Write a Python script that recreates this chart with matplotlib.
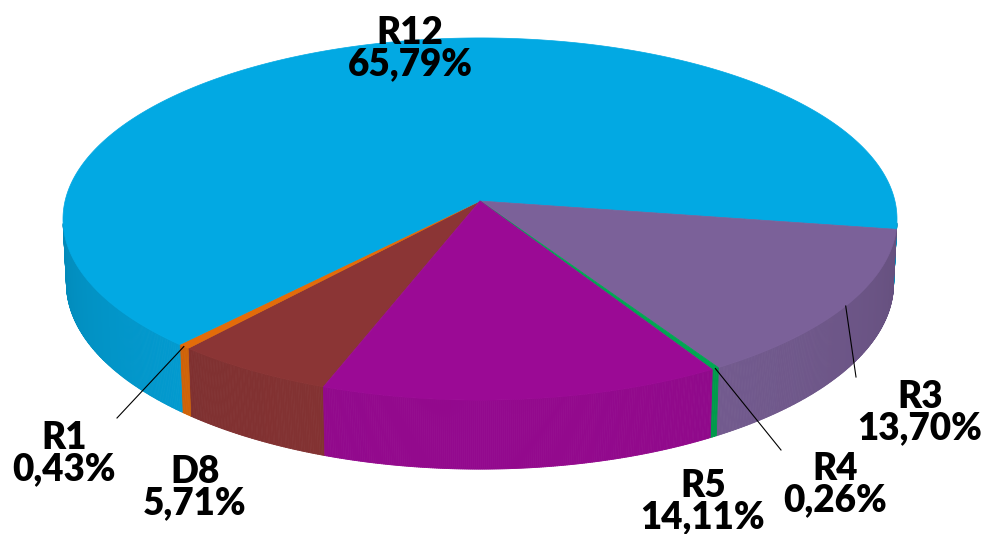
import numpy as np
import matplotlib
matplotlib.use("Agg")
import matplotlib.pyplot as plt
from matplotlib.collections import PolyCollection

# datos del grafico (orden de las porciones, en sentido horario)
LABELS = ["D8", "R1", "R12", "R3", "R4", "R5"]
VALUES = [5.71, 0.43, 65.79, 13.70, 0.26, 14.11]
COLORS = ["#8B3535", "#E36C09", "#02A9E3", "#7B6199", "#00A651", "#9B0A95"]

# posicion de las etiquetas (px) y fin de la linea guia (None = sin linea)
LABEL_POS = [(195, 488), (64, 454), (410, 49), (920, 413), (835, 485), (703, 502)]
LEADER_END = [None, (117, 418), None, (856, 377), (781, 450), None]

# geometria del pastel 3D
START = 200.0           # angulo de la primera porcion (grados, horario desde arriba)
ELEV = np.radians(25.6)
DIST = 9.064
FOCAL = 3761.0
DEPTH = 0.172
CX, CY = 480, 201

W, H = 987, 534


def proj(x, y, z):
    # x derecha, y hacia el observador, z arriba -> pixeles
    s, c = np.sin(ELEV), np.cos(ELEV)
    vy = y - DIST * c
    vz = z - DIST * s
    depth = -vy * c - vz * s
    up = -vy * s + vz * c
    return CX + x / depth * FOCAL, CY - up / depth * FOCAL


def rim(phi, z=0.0):
    r = np.radians(phi)
    return proj(np.sin(r), -np.cos(r), z)


def shade(color, f):
    rgb = np.array(matplotlib.colors.to_rgb(color))
    return tuple(np.clip(rgb * f, 0, 1))


fig = plt.figure(figsize=(W / 100, H / 100), dpi=100)
ax = fig.add_axes([0, 0, 1, 1])
ax.set_xlim(0, W)
ax.set_ylim(H, 0)
ax.axis("off")

total = sum(VALUES)
bounds = [START]
for v in VALUES:
    bounds.append(bounds[-1] + v / total * 360.0)

vis = 1.0 / (DIST * np.cos(ELEV))

# paredes laterales
side_polys, side_cols = [], []
for i, col in enumerate(COLORS):
    a, b = bounds[i], bounds[i + 1]
    n = max(2, int((b - a) * 4))
    phis = np.linspace(a, b, n + 1)
    for p0, p1 in zip(phis[:-1], phis[1:]):
        pm = np.radians((p0 + p1) / 2)
        if -np.cos(pm) <= vis:
            continue
        x0, y0 = rim(p0)
        x1, y1 = rim(p1)
        x2, y2 = rim(p1, -DEPTH)
        x3, y3 = rim(p0, -DEPTH)
        side_polys.append([(x0, y0), (x1, y1), (x2, y2), (x3, y3)])
        f = np.clip(0.80 + 0.15 * (-np.cos(pm)), 0.78, 0.95)
        side_cols.append(shade(col, f))
ax.add_collection(PolyCollection(side_polys, facecolors=side_cols,
                                 edgecolors=side_cols, linewidths=0.6))

# caras superiores
top_polys = []
for i in range(len(VALUES)):
    a, b = bounds[i], bounds[i + 1]
    n = max(2, int((b - a) * 2))
    phis = np.linspace(a, b, n + 1)
    pts = [proj(0, 0, 0)] + [rim(p) for p in phis]
    top_polys.append(pts)
ax.add_collection(PolyCollection(top_polys, facecolors=COLORS,
                                 edgecolors=COLORS, linewidths=0.5))

# etiquetas y lineas guia
for i, (lab, v) in enumerate(zip(LABELS, VALUES)):
    txt = "{}\n{:.2f}%".format(lab, v).replace(".", ",")
    lx, ly = LABEL_POS[i]
    ax.text(lx, ly, txt, ha="center", va="center", fontsize=26.5,
            fontweight="heavy", family="Lato", linespacing=0.9, color="black")
    if LEADER_END[i] is not None:
        mid = (bounds[i] + bounds[i + 1]) / 2
        sx, sy = rim(mid)
        ex, ey = LEADER_END[i]
        ax.plot([sx, ex], [sy, ey], color="black", lw=0.8)

fig.savefig("out.png", dpi=100)
